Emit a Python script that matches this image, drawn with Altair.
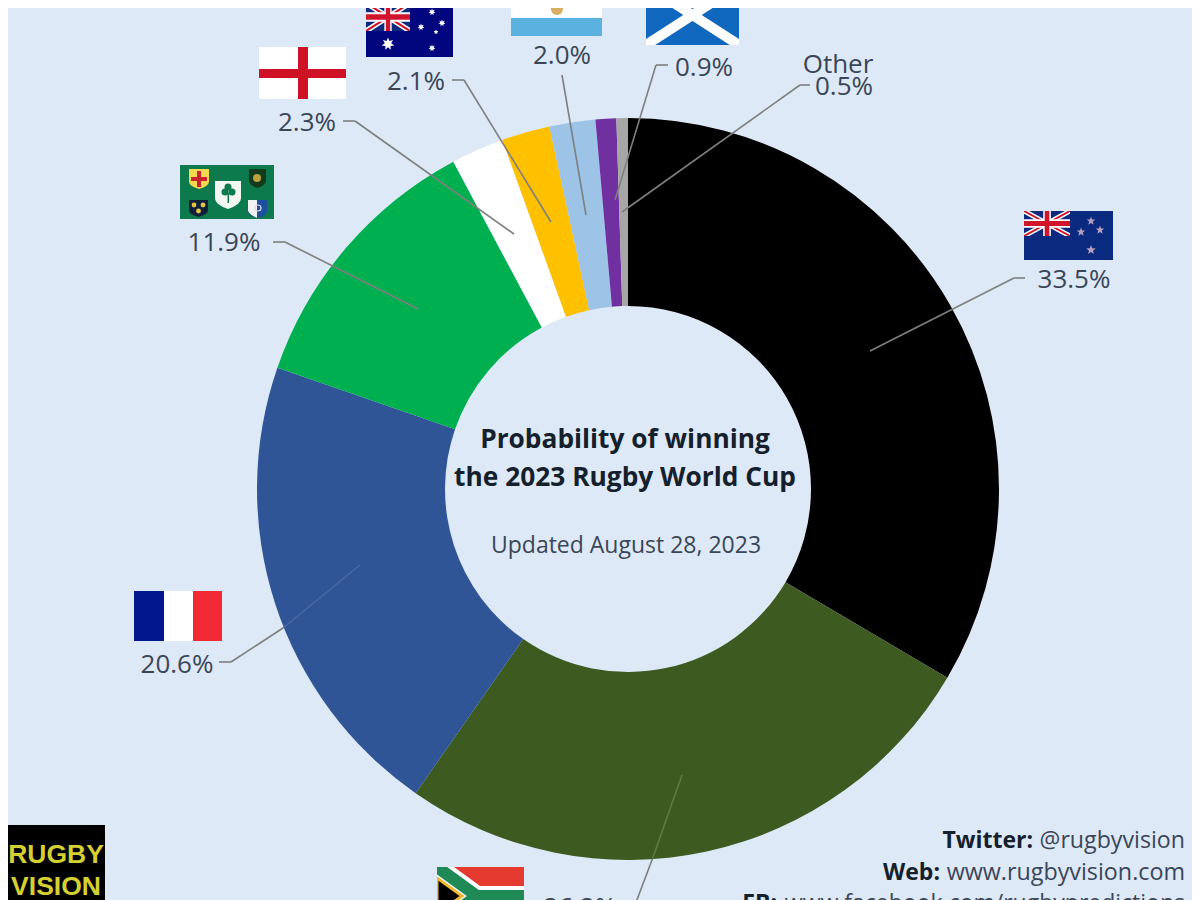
import base64
import math
import altair as alt
import pandas as pd

# ---- data ----
teams = ["New Zealand", "South Africa", "France", "Ireland", "England",
         "Australia", "Argentina", "Scotland", "Other"]
shares = [33.5, 26.2, 20.6, 11.9, 2.3, 2.1, 2.0, 0.9, 0.5]
colors = ["#000000", "#3D5A21", "#2F5597", "#00B050", "#FFFFFF",
          "#FFC000", "#9DC3E6", "#7030A0", "#A6A6A6"]

BG = "#DDE9F6"
LABEL = "#3A4656"
DARK = "#14202C"
LINE = "#7F7F7F"
FONT = "Open Sans"
OX, OY = 8, 8  # page margin: layout below is given in page pixels


def px(x):
    return alt.value(x - OX)


def py(y):
    return alt.value(y - OY)


def text(s, x, y, size=26, align="center", weight="normal", color=LABEL, font=FONT):
    return alt.Chart(pd.DataFrame({"t": [s]})).mark_text(
        font=font, fontSize=size, align=align, baseline="middle",
        fontWeight=weight, color=color,
    ).encode(x=px(x), y=py(y + 1), text=alt.Text("t:N"))


def seg(x1, y1, x2, y2, color=LINE, width=1.6):
    return alt.Chart(pd.DataFrame({"a": [0]})).mark_rule(
        color=color, strokeWidth=width
    ).encode(x=px(x1), y=py(y1), x2=px(x2), y2=py(y2))


def star(cx, cy, r, n=5, inner=0.42, fill="#fff", extra=""):
    pts = []
    for i in range(2 * n):
        rr = r if i % 2 == 0 else r * inner
        a = -math.pi / 2 + i * math.pi / n
        pts.append(f"{cx + rr * math.cos(a):.2f},{cy + rr * math.sin(a):.2f}")
    return f'<polygon points="{" ".join(pts)}" fill="{fill}" {extra}/>'


def jack(w, h):
    return (
        f'<svg x="0" y="0" width="{w}" height="{h}" viewBox="0 0 60 30" preserveAspectRatio="none">'
        '<rect width="60" height="30" fill="#0A2A80"/>'
        '<path d="M0 0L60 30M60 0L0 30" stroke="#fff" stroke-width="6"/>'
        '<path d="M0 0L60 30M60 0L0 30" stroke="#CF142B" stroke-width="2.4"/>'
        '<path d="M30 0V30M0 15H60" stroke="#fff" stroke-width="10"/>'
        '<path d="M30 0V30M0 15H60" stroke="#CF142B" stroke-width="6"/></svg>'
    )


def shield(x, y, w, h, fill, inner=""):
    return (f'<path d="M{x} {y}H{x + w}V{y + h * 0.62}Q{x + w} {y + h * 0.85} {x + w / 2} {y + h}'
            f'Q{x} {y + h * 0.85} {x} {y + h * 0.62}Z" fill="{fill}"/>{inner}')


def svg(w, h, body):
    s = (f'<svg xmlns="http://www.w3.org/2000/svg" width="{w}" height="{h}" '
         f'viewBox="0 0 {w} {h}">{body}</svg>')
    return "data:image/svg+xml;base64," + base64.b64encode(s.encode()).decode()


flag_nz = svg(89, 49, '<rect width="89" height="49" fill="#0A2A80"/>' + jack(46, 25)
              + star(67, 10, 4.5, fill="#B7A0BE") + star(57, 21, 4.5, fill="#B7A0BE")
              + star(76, 19, 4.5, fill="#B7A0BE") + star(67, 39, 5, fill="#B7A0BE"))
flag_fr = svg(88, 50, '<rect width="30" height="50" fill="#02178C"/>'
              '<rect x="30" width="29" height="50" fill="#FFF"/>'
              '<rect x="59" width="29" height="50" fill="#F12A36"/>')
flag_en = svg(87, 52, '<rect width="87" height="52" fill="#FFF"/>'
              '<rect x="39" width="10" height="52" fill="#CE1124"/>'
              '<rect y="22" width="87" height="9" fill="#CE1124"/>')
flag_au = svg(87, 54, '<rect width="87" height="54" fill="#01067F"/>' + jack(44, 28)
              + star(22, 41, 6.5, n=7, inner=0.5) + star(66, 9, 3.5, n=7, inner=0.5)
              + star(55, 24, 3.5, n=7, inner=0.5) + star(76, 20, 3.5, n=7, inner=0.5)
              + star(70, 29, 2.5, inner=0.5) + star(66, 45, 3.5, n=7, inner=0.5))
flag_ar = svg(91, 54, '<rect width="91" height="54" fill="#FFF"/>'
              '<rect width="91" height="18" fill="#5CB2DE"/>'
              '<rect y="36" width="91" height="18" fill="#5CB2DE"/>'
              '<circle cx="46" cy="27" r="6" fill="#D9AE62"/>')
flag_sc = svg(93, 60, '<rect width="93" height="60" fill="#0F67BE"/>'
              '<path d="M0 0L93 60M93 0L0 60" stroke="#FFF" stroke-width="10"/>')
flag_ie = svg(94, 54, '<rect width="94" height="54" fill="#0D7A4E"/>'
              + shield(9, 4, 20, 20, "#F2D94E",
                       '<rect x="17" y="6" width="4" height="16" fill="#C8232C"/>'
                       '<rect x="11" y="12" width="16" height="4" fill="#C8232C"/>')
              + shield(69, 4, 17, 19, "#123A1C", '<circle cx="77" cy="13" r="4" fill="#B9A23C"/>')
              + shield(35, 16, 26, 28, "#F2F7F2",
                       '<circle cx="45" cy="27" r="3.5" fill="#0D7A4E"/>'
                       '<circle cx="52" cy="27" r="3.5" fill="#0D7A4E"/>'
                       '<circle cx="48" cy="22" r="3.5" fill="#0D7A4E"/>'
                       '<rect x="47.5" y="28" width="1.5" height="10" fill="#0D7A4E"/>')
              + shield(9, 35, 19, 17, "#10203C",
                       '<circle cx="14" cy="40" r="2.4" fill="#E6C53E"/>'
                       '<circle cx="23" cy="40" r="2.4" fill="#E6C53E"/>'
                       '<circle cx="18.5" cy="46" r="2.4" fill="#E6C53E"/>')
              + shield(68, 35, 19, 18, "#1E4FA0",
                       '<path d="M68 35H77V53Q70 50 68 46Z" fill="#F2F2F2"/>'
                       '<circle cx="78" cy="43" r="3" fill="none" stroke="#DDE" stroke-width="1.2"/>'))
flag_sa = svg(87, 58, '<rect width="87" height="29" fill="#E43A30"/>'
              '<rect y="29" width="87" height="29" fill="#0B4AA0"/>'
              '<path d="M0 0L40 29H87M0 58L40 29" fill="none" stroke="#FFF" stroke-width="20"/>'
              '<path d="M0 0L40 29H87M0 58L40 29" fill="none" stroke="#1F8A56" stroke-width="12"/>'
              '<path d="M0 11V47L25 29Z" fill="#000" stroke="#F2B632" stroke-width="3"/>')


def flag(uri, x, y, w, h):
    return alt.Chart(pd.DataFrame({"u": [uri]})).mark_image(
        width=w, height=h, align="left", baseline="top", aspect=False
    ).encode(x=px(x), y=py(y), url=alt.Url("u:N"))


# ---- donut ----
table = pd.DataFrame({"team": teams, "share": shares, "rank": range(len(teams))})
donut = alt.Chart(table).mark_arc(radius=371, radius2=183).encode(
    theta=alt.Theta("share:Q", stack=True),
    order=alt.Order("rank:Q"),
    color=alt.Color("team:N", scale=alt.Scale(domain=teams, range=colors), legend=None),
    x=px(628), y=py(489),
)

pct = {t: f"{v:.1f}%" for t, v in zip(teams, shares)}

layers = [
    donut,
    # leader lines
    seg(870, 351, 1014, 278), seg(1014, 278, 1025, 278),
    seg(682, 775, 652, 860, color="#5F7A45"), seg(652, 860, 635, 905),
    seg(360, 565, 283, 628, color="#4A68A0"), seg(283, 628, 231, 662), seg(231, 662, 219, 662),
    seg(418, 309, 285, 242), seg(285, 242, 273, 242),
    seg(514, 234, 355, 121), seg(355, 121, 343, 121),
    seg(551, 222, 464, 80), seg(464, 80, 452, 80),
    seg(562, 75, 586, 215),
    seg(615, 200, 656, 65), seg(656, 65, 668, 65),
    seg(622, 212, 800, 85), seg(800, 85, 810, 85),
    # flags
    flag(flag_nz, 1024, 211, 89, 49),
    flag(flag_fr, 134, 591, 88, 50),
    flag(flag_ie, 180, 165, 94, 54),
    flag(flag_en, 259, 47, 87, 52),
    flag(flag_au, 366, 3, 87, 54),
    flag(flag_ar, 511, -18, 91, 54),
    flag(flag_sc, 646, -15, 93, 60),
    flag(flag_sa, 437, 867, 87, 58),
    # value labels
    text(pct["New Zealand"], 1074, 279),
    text(pct["South Africa"], 580, 907),
    text(pct["France"], 177, 664),
    text(pct["Ireland"], 224, 242),
    text(pct["England"], 307, 122),
    text(pct["Australia"], 416, 81),
    text(pct["Argentina"], 562, 55),
    text(pct["Scotland"], 704, 67),
    text("Other", 838, 64),
    text(pct["Other"], 844, 86),
    # centre
    text("Probability of winning", 625, 439, 26.3, weight="bold", color=DARK),
    text("the 2023 Rugby World Cup", 625, 477, 26.3, weight="bold", color=DARK),
    text("Updated August 28, 2023", 626, 545, 23),
    # footer
    text("Twitter:", 1033, 840, 23, "right", "bold", DARK),
    text("@rugbyvision", 1185, 840, 23.2, "right"),
    text("Web:", 940, 872, 23, "right", "bold", DARK),
    text("www.rugbyvision.com", 1185, 872, 23.3, "right"),
    text("FB:", 777, 903, 23, "right", "bold", DARK),
    text("www.facebook.com/rugbypredictions", 1185, 903, 23, "right"),
    # logo
    alt.Chart(pd.DataFrame({"a": [0]})).mark_rect(color="#000000").encode(
        x=px(6), x2=px(105), y=py(825), y2=py(905)),
    text("RUGBY", 56, 854, 26.5, weight="bold", color="#D4CF32", font="Liberation Sans"),
    text("VISION", 56, 886, 26.5, weight="bold", color="#D4CF32", font="Liberation Sans"),
]

chart = alt.layer(*layers).properties(
    width=1184, height=892, padding=0, background=BG,
    autosize=alt.AutoSizeParams(type="none"),
).configure_view(stroke=None)

chart.save("out.html", embed_options={"renderer": "svg", "actions": False})
